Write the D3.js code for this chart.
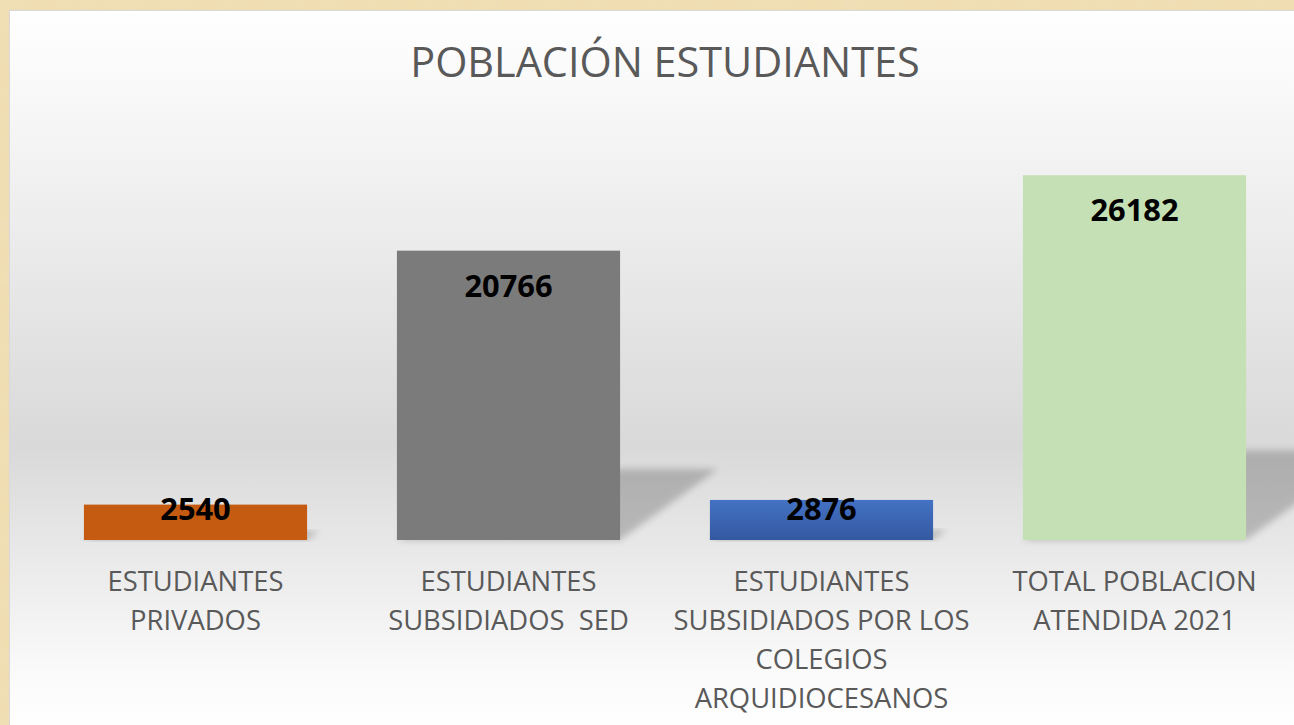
<!DOCTYPE html>
<html>
<head>
<meta charset="utf-8">
<script src="https://cdn.jsdelivr.net/npm/d3@7"></script>
<style>
  html, body { margin: 0; padding: 0; background: #efdcb0; }
  svg { display: block; }
</style>
</head>
<body>
<div id="container"><svg></svg></div>
<script>
let width = 1294;
let height = 725;

// data
let categories = [
    'ESTUDIANTES\nPRIVADOS',
    'ESTUDIANTES\nSUBSIDIADOS  SED',
    'ESTUDIANTES\nSUBSIDIADOS POR LOS\nCOLEGIOS\nARQUIDIOCESANOS',
    'TOTAL POBLACION\nATENDIDA 2021'
];
let values = [2540, 20766, 2876, 26182];
let colors = ['#c55a11', '#7b7b7b', '#4472c4', '#c5e0b4'];
let title = 'POBLACIÓN ESTUDIANTES';

let fontFamily = "'Open Sans', 'DejaVu Sans', sans-serif";

function draw_main() {
    let svg = d3.select('#container')
        .select('svg')
        .attr('width', width)
        .attr('height', height);

    let defs = svg.append('defs');

    // parchment-ish texture behind the chart
    let tex = defs.append('filter').attr('id', 'paper');
    tex.append('feTurbulence')
        .attr('type', 'fractalNoise')
        .attr('baseFrequency', 0.05)
        .attr('numOctaves', 3)
        .attr('seed', 4);
    tex.append('feColorMatrix')
        .attr('values', '0 0 0 0 0.85  0 0 0 0 0.74  0 0 0 0 0.52  0 0 0 -1.2 0.9');

    svg.append('rect')
        .attr('width', width).attr('height', height)
        .attr('fill', '#f0ddb0');
    svg.append('rect')
        .attr('width', width).attr('height', height)
        .attr('filter', 'url(#paper)')
        .attr('opacity', 0.6);

    // chart area gradient
    let grad = defs.append('linearGradient')
        .attr('id', 'bg')
        .attr('x1', 0).attr('y1', 0).attr('x2', 0).attr('y2', 1);
    grad.append('stop').attr('offset', '0%').attr('stop-color', '#ffffff');
    grad.append('stop').attr('offset', '12%').attr('stop-color', '#f8f8f8');
    grad.append('stop').attr('offset', '60%').attr('stop-color', '#d9d9d9');
    grad.append('stop').attr('offset', '92%').attr('stop-color', '#fbfbfb');
    grad.append('stop').attr('offset', '100%').attr('stop-color', '#ffffff');

    svg.append('rect')
        .attr('x', 9.5).attr('y', 10.5)
        .attr('width', width).attr('height', height)
        .attr('fill', 'url(#bg)')
        .attr('stroke', '#d9d9d9')
        .attr('stroke-width', 1);

    let blueGrad = defs.append('linearGradient')
        .attr('id', 'blueBar')
        .attr('x1', 0).attr('y1', 0).attr('x2', 0).attr('y2', 1);
    blueGrad.append('stop').attr('offset', '0%').attr('stop-color', '#4472c4');
    blueGrad.append('stop').attr('offset', '100%').attr('stop-color', '#3358a0');

    let blur = defs.append('filter').attr('id', 'blur')
        .attr('x', '-20%').attr('y', '-20%').attr('width', '140%').attr('height', '140%');
    blur.append('feGaussianBlur').attr('stdDeviation', 3.5);

    // title
    svg.append('text')
        .attr('x', 665)
        .attr('y', 77)
        .attr('text-anchor', 'middle')
        .attr('font-family', fontFamily)
        .attr('font-size', 41.4)
        .attr('fill', '#595959')
        .text(title);

    // scales
    let x = d3.scaleBand()
        .domain(categories)
        .range([39, 1291])
        .paddingInner(0.287)
        .paddingOuter(0.1435);

    let y = d3.scaleLinear()
        .domain([0, 30000])
        .range([540, 122]);

    let data = categories.map((c, i) => ({cat: c, value: values[i], color: colors[i]}));

    // perspective shadows
    svg.append('g')
        .selectAll('polygon')
        .data(data)
        .enter()
        .append('polygon')
        .attr('points', d => {
            let x0 = x(d.cat), x1 = x(d.cat) + x.bandwidth();
            let sh = (y(0) - y(d.value)) * 0.245;
            let dx = sh * 1.38;
            return [[x0, y(0)], [x1, y(0)], [x1 + dx, y(0) - sh], [x0 + dx, y(0) - sh]]
                .map(p => p.join(',')).join(' ');
        })
        .attr('fill', '#000')
        .attr('opacity', 0.2)
        .attr('filter', 'url(#blur)');

    // bars
    svg.append('g')
        .selectAll('rect')
        .data(data)
        .enter()
        .append('rect')
        .attr('x', d => x(d.cat))
        .attr('y', d => y(d.value))
        .attr('width', x.bandwidth())
        .attr('height', d => y(0) - y(d.value))
        .attr('fill', (d, i) => i == 2 ? 'url(#blueBar)' : d.color);

    // value labels
    svg.append('g')
        .selectAll('text')
        .data(data)
        .enter()
        .append('text')
        .attr('x', d => x(d.cat) + x.bandwidth() / 2)
        .attr('y', d => Math.min(y(d.value) + 46, y(0) - 20))
        .attr('text-anchor', 'middle')
        .attr('font-family', fontFamily)
        .attr('font-weight', 'bold')
        .attr('font-size', 30.8)
        .attr('fill', '#000')
        .text(d => d.value);

    // category labels
    let labels = svg.append('g')
        .selectAll('text')
        .data(data)
        .enter()
        .append('text')
        .attr('text-anchor', 'middle')
        .attr('font-family', fontFamily)
        .attr('font-size', 27.4)
        .attr('fill', '#595959');
    labels.each(function (d) {
        let t = d3.select(this);
        d.cat.split('\n').forEach((line, j) => {
            t.append('tspan')
                .attr('x', x(d.cat) + x.bandwidth() / 2)
                .attr('y', 591 + j * 39)
                .attr('xml:space', 'preserve')
                .text(line);
        });
    });
}

draw_main();
</script>
</body>
</html>
